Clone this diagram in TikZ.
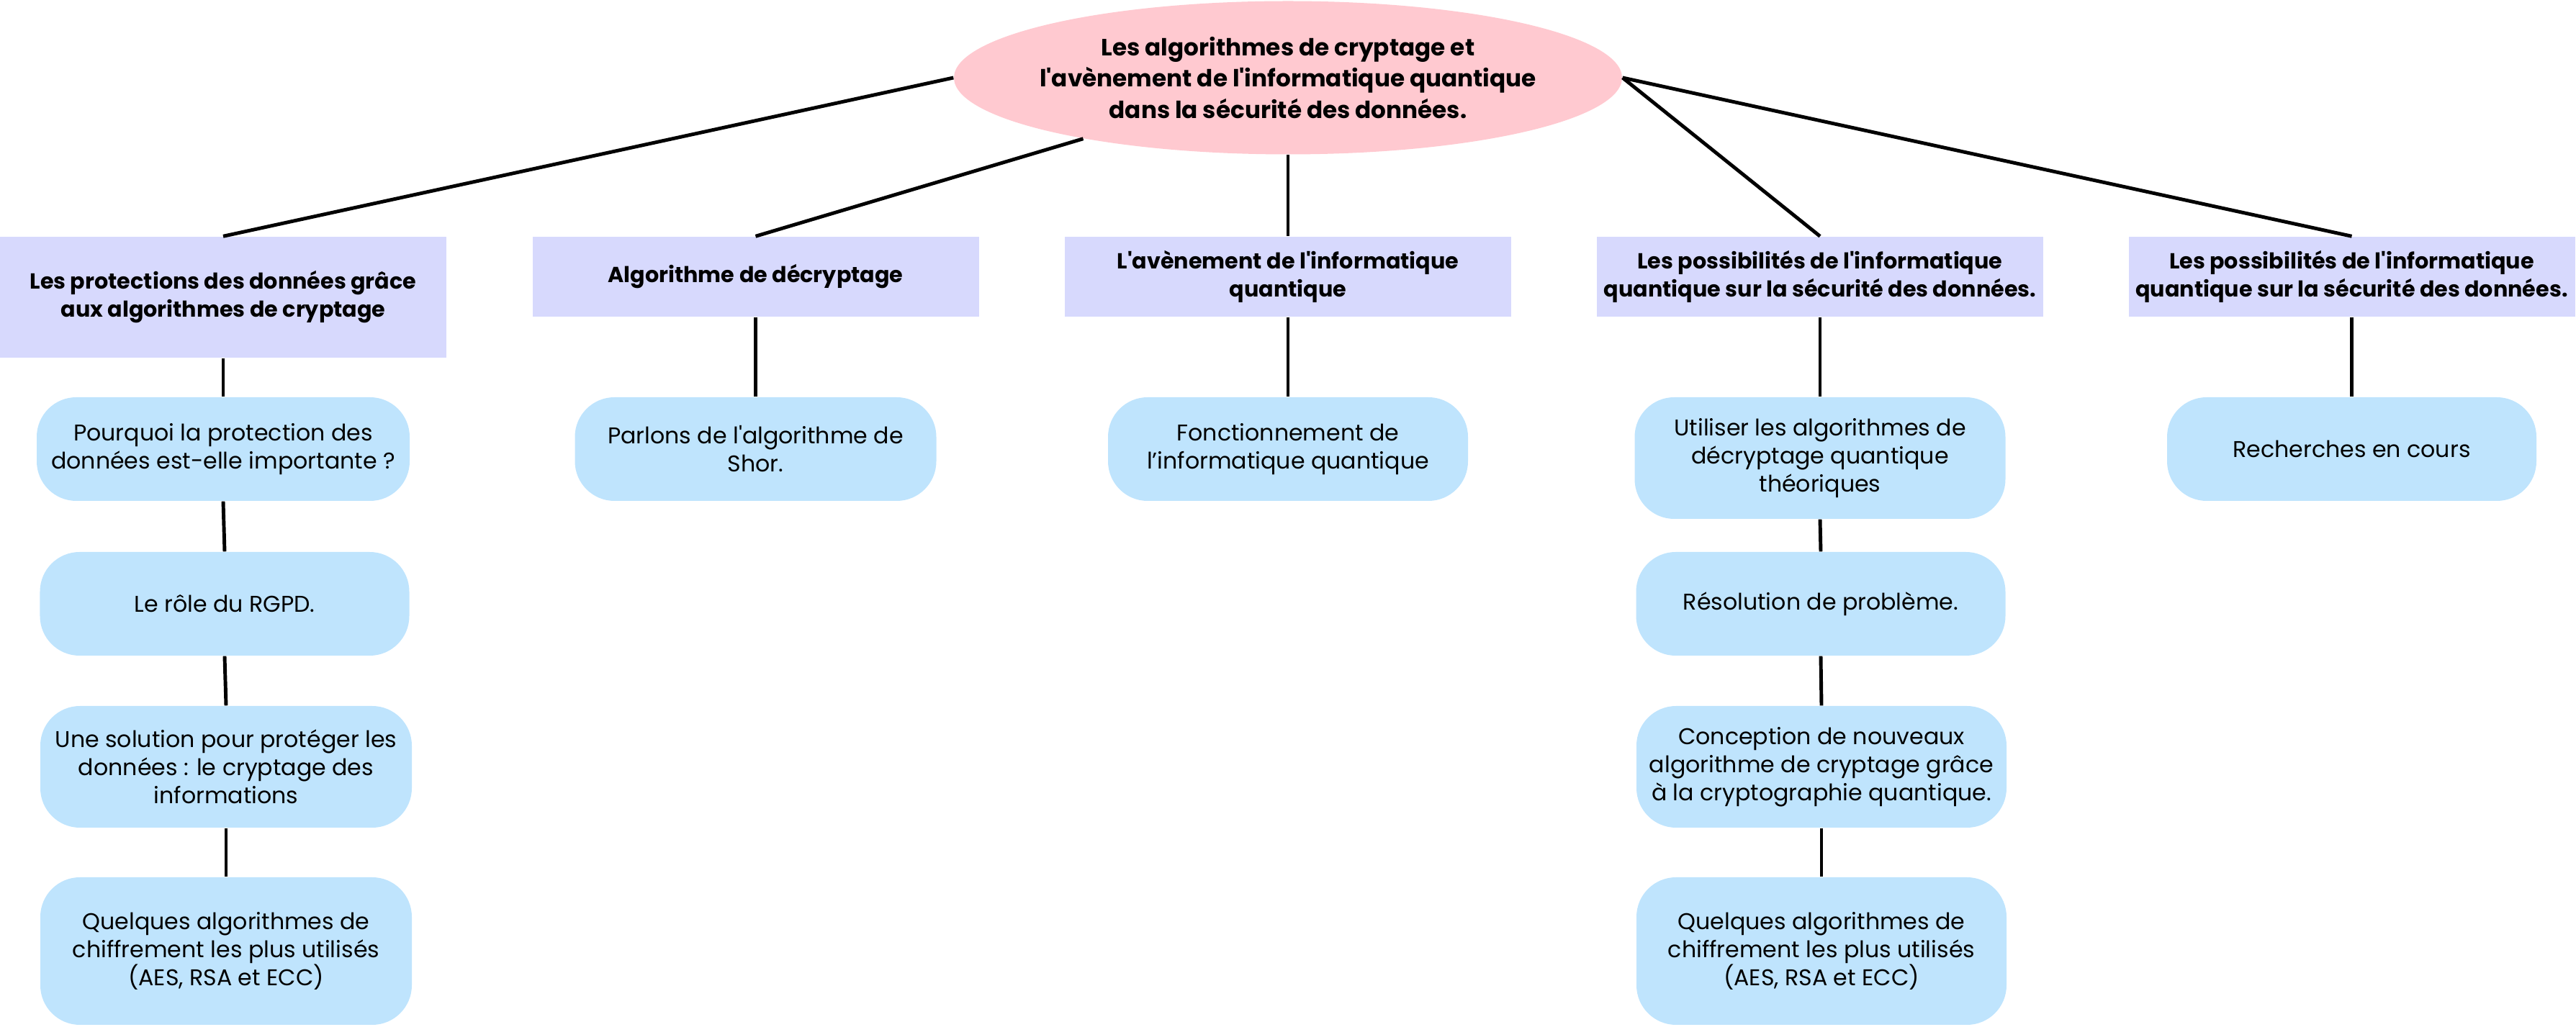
\documentclass[tikz,border=0pt]{standalone}
\usepackage{fontspec}
\setmainfont{Poppins}
\usetikzlibrary{shapes.geometric}
\newcommand{\aq}{\textquotesingle}
\definecolor{pinkc}{HTML}{FFC9D0}
\definecolor{lavc}{HTML}{D7D9FD}
\definecolor{bluec}{HTML}{BFE4FD}
\tikzset{
  titlenode/.style={ellipse, fill=pinkc, inner sep=0pt, minimum width=9.28cm, minimum height=2.13cm},
  titletext/.style={inner sep=0pt, align=center, font=\bfseries\fontsize{9.3}{12.5}\selectfont},
  headbox/.style={rectangle, fill=lavc, inner sep=0pt, minimum width=6.2cm, align=center, font=\bfseries\fontsize{8.6}{11.1}\selectfont},
  leafbox/.style={rectangle, rounded corners=0.55cm, fill=bluec, inner sep=0pt, align=center, font=\fontsize{9}{11.1}\selectfont},
  link/.style={line width=1.4pt, black}
}
\begin{document}
\begin{tikzpicture}
\useasboundingbox (0,0) rectangle (35.78,-14.27);
\node[titlenode] (T) at (17.89,-1.08) {};
\node[titletext] (Tt) at (T.center) {Les algorithmes de cryptage et\\l\aq avènement de l\aq informatique quantique\\dans la sécurité des données.};

\node[headbox, minimum height=1.68cm] (H1) at (3.10,-4.13) {Les protections des données grâce\\aux algorithmes de cryptage};
\node[headbox, minimum height=1.11cm] (H2) at (10.495,-3.845) {Algorithme de décryptage};
\node[headbox, minimum height=1.11cm] (H3) at (17.89,-3.845) {L\aq avènement de l\aq informatique\\quantique};
\node[headbox, minimum height=1.11cm] (H4) at (25.28,-3.845) {Les possibilités de l\aq informatique\\quantique sur la sécurité des données.};
\node[headbox, minimum height=1.11cm] (H5) at (32.665,-3.845) {Les possibilités de l\aq informatique\\quantique sur la sécurité des données.};

\node[leafbox, minimum width=5.18cm, minimum height=1.44cm] (A1) at (3.10,-6.24) {Pourquoi la protection des\\données est-elle importante ?};
\node[leafbox, minimum width=5.13cm, minimum height=1.44cm] (A2) at (3.12,-8.39) {Le rôle du RGPD.};
\node[leafbox, minimum width=5.16cm, minimum height=1.69cm] (A3) at (3.14,-10.655) {Une solution pour protéger les\\données : le cryptage des\\informations};
\node[leafbox, minimum width=5.16cm, minimum height=2.05cm] (A4) at (3.14,-13.215) {Quelques algorithmes de\\chiffrement les plus utilisés\\(AES, RSA et ECC)};

\node[leafbox, minimum width=5.02cm, minimum height=1.44cm] (B1) at (10.495,-6.24) {Parlons de l\aq algorithme de\\Shor.};
\node[leafbox, minimum width=5.00cm, minimum height=1.44cm] (C1) at (17.89,-6.24) {Fonctionnement de\\l’informatique quantique};

\node[leafbox, minimum width=5.15cm, minimum height=1.69cm] (D1) at (25.28,-6.365) {Utiliser les algorithmes de\\décryptage quantique\\théoriques};
\node[leafbox, minimum width=5.13cm, minimum height=1.44cm] (D2) at (25.29,-8.39) {Résolution de problème.};
\node[leafbox, minimum width=5.14cm, minimum height=1.69cm] (D3) at (25.30,-10.655) {Conception de nouveaux\\algorithme de cryptage grâce\\à la cryptographie quantique.};
\node[leafbox, minimum width=5.14cm, minimum height=2.05cm] (D4) at (25.30,-13.215) {Quelques algorithmes de\\chiffrement les plus utilisés\\(AES, RSA et ECC)};

\node[leafbox, minimum width=5.13cm, minimum height=1.44cm] (E1) at (32.665,-6.24) {Recherches en cours};

\draw[link] (T.west) -- (H1.north);
\draw[link] (T) -- (H2.north);
\draw[link] (T.south) -- (H3.north);
\draw[link] (T.east) -- (H4.north);
\draw[link] (T.east) -- (H5.north);

\draw[link] (H1.south) -- (A1.north);
\draw[link] (A1.south) -- (A2.north);
\draw[link] (A2.south) -- (A3.north);
\draw[link] (A3.south) -- (A4.north);
\draw[link] (H2.south) -- (B1.north);
\draw[link] (H3.south) -- (C1.north);
\draw[link] (H4.south) -- (D1.north);
\draw[link] (D1.south) -- (D2.north);
\draw[link] (D2.south) -- (D3.north);
\draw[link] (D3.south) -- (D4.north);
\draw[link] (H5.south) -- (E1.north);
\end{tikzpicture}
\end{document}
